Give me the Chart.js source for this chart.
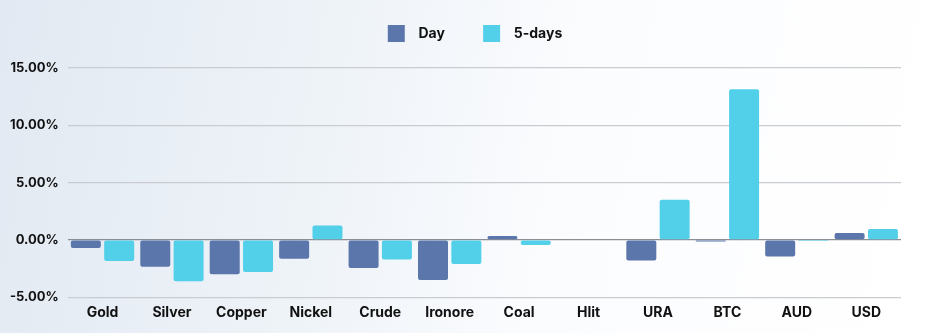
<!DOCTYPE html>
<html>
<head>
<meta charset="utf-8">
<script src="https://cdn.jsdelivr.net/npm/chart.js@4"></script>
<style>
  html, body { margin: 0; padding: 0; }
  body {
    width: 926px; height: 333px; overflow: hidden;
    background: linear-gradient(100deg, #e2e9f2 0%, #eef3f8 35%, #fbfcfe 60%, #ffffff 100%);
  }
  #wrap { position: relative; width: 926px; height: 333px; }
</style>
</head>
<body>
<div id="wrap"><canvas id="bar-chart"></canvas></div>
<script>
// categories and series (percent change)
const categories = ['Gold', 'Silver', 'Copper', 'Nickel', 'Crude', 'Ironore', 'Coal', 'Hlit', 'URA', 'BTC', 'AUD', 'USD'];
const dayValues = [-0.7, -2.35, -3.0, -1.65, -2.45, -3.5, 0.35, 0, -1.8, -0.15, -1.45, 0.6];
const fiveDayValues = [-1.85, -3.6, -2.8, 1.25, -1.7, -2.1, -0.45, 0, 3.5, 13.15, -0.1, 0.95];
const yTicks = [-5, 0, 5, 10, 15];

const fontFamily = 'Inter, "Open Sans", sans-serif';

const data_bar = {
  labels: categories,
  datasets: [{
    label: 'Day',
    data: dayValues,
    backgroundColor: '#5a76ab',
    borderRadius: 2,
    borderSkipped: false,
    categoryPercentage: 0.96,
    barPercentage: 0.9
  }, {
    label: '5-days',
    data: fiveDayValues,
    backgroundColor: '#52d0ea',
    borderRadius: 2,
    borderSkipped: false,
    categoryPercentage: 0.96,
    barPercentage: 0.9
  }]
};

// make the legend a bit taller so the plot starts lower, and nudge it right
const legendSpace = {
  id: 'legendSpace',
  beforeInit(chart) {
    const fit = chart.legend.fit;
    chart.legend.fit = function () {
      fit.bind(chart.legend)();
      this.height += 16;
    };
  },
  afterLayout(chart) {
    chart.legend.left += 24;
    chart.legend.right += 24;
  }
};

const config_bar = {
  type: 'bar',
  data: data_bar,
  plugins: [legendSpace],
  options: {
    responsive: false,
    animation: false,
    layout: { padding: { left: 1, right: 25, top: 0, bottom: 13 } },
    plugins: {
      legend: {
        position: 'top',
        labels: {
          boxWidth: 17,
          boxHeight: 17,
          padding: 25,
          color: '#111',
          font: { family: fontFamily, size: 14, weight: 'bold' },
          generateLabels(chart) {
            const items = Chart.defaults.plugins.legend.labels.generateLabels(chart);
            items.forEach((it, i) => {
              it.text = '  ' + it.text + (i < items.length - 1 ? '    ' : '');
            });
            return items;
          }
        }
      },
      tooltip: { enabled: false }
    },
    scales: {
      x: {
        grid: { display: false },
        border: { display: false },
        ticks: { color: '#111', font: { family: fontFamily, size: 14, weight: 'bold' }, padding: -1 }
      },
      y: {
        min: -5,
        max: 15,
        afterBuildTicks: (axis) => { axis.ticks = yTicks.map(v => ({ value: v })); },
        grid: {
          color: (ctx) => ctx.tick && ctx.tick.value === 0 ? '#8a8f96' : '#c9ccd0',
          lineWidth: 1.2,
          drawTicks: false
        },
        border: { display: false },
        ticks: {
          color: '#111',
          font: { family: fontFamily, size: 13, weight: 'bold' },
          padding: 9,
          callback: (v) => v.toFixed(2) + '%'
        }
      }
    }
  }
};

const canvas_bar = document.getElementById('bar-chart');
canvas_bar.width = 926;
canvas_bar.height = 333;
const barChart = new Chart(canvas_bar, config_bar);
</script>
</body>
</html>
